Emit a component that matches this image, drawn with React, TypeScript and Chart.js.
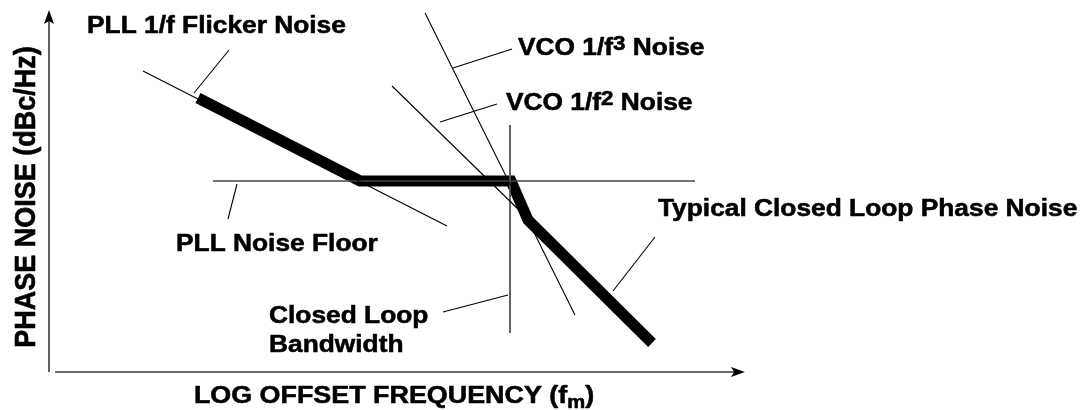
import React, { useEffect, useRef } from "react";
import { Chart, registerables } from "chart.js";

Chart.register(...registerables);

// ---- Data (x: log offset frequency units, y: phase noise, dBc/Hz-like units) ----
const closedLoopX = [14.9, 31.1, 46.2, 47.9, 60.3];
const closedLoopY = [-23, -64.5, -64.5, -84, -145.5];

const flickerX = [9.4, 39.8];
const flickerY = [-9.5, -87];

const floorX = [16.4, 64.6];
const floorY = [-64.5, -64.5];

const vco3X = [37.6, 52.6];
const vco3Y = [19.5, -131.5];

const vco2X = [34.3, 47.1];
const vco2Y = [-17, -79.5];

const bandwidthX = [46.1, 46.1];
const bandwidthY = [-36.5, -140.5];

// leader lines (from curve to label)
const leaderFlickerX = [14.5, 18];
const leaderFlickerY = [-20.5, 1];
const leaderVco3X = [40.4, 46.3];
const leaderVco3Y = [-8, 1.5];
const leaderVco2X = [39.1, 44.8];
const leaderVco2Y = [-35, -26];
const leaderFloorX = [18.8, 17.9];
const leaderFloorY = [-66, -83.5];
const leaderBandwidthX = [45.9, 39.4];
const leaderBandwidthY = [-121.5, -130];
const leaderTypicalX = [56.4, 60.6];
const leaderTypicalY = [-119.5, -92.5];

const xAxisTitle = "LOG OFFSET FREQUENCY (f";
const xAxisSub = "m";
const yAxisTitle = "PHASE NOISE (dBc/Hz)";

type Part = { t: string; sup?: boolean; sub?: boolean };
type Label = { parts: Part[]; x: number; y: number };

const labels: Label[] = [
  { parts: [{ t: "PLL 1/f Flicker Noise" }], x: 3.8, y: 9.5 },
  { parts: [{ t: "VCO 1/f" }, { t: "3", sup: true }, { t: " Noise" }], x: 46.9, y: -1.5 },
  { parts: [{ t: "VCO 1/f" }, { t: "2", sup: true }, { t: " Noise" }], x: 45.7, y: -29 },
  { parts: [{ t: "PLL Noise Floor" }], x: 12.7, y: -99.5 },
  { parts: [{ t: "Closed Loop" }], x: 22, y: -135.5 },
  { parts: [{ t: "Bandwidth" }], x: 22, y: -150 },
  { parts: [{ t: "Typical Closed Loop Phase Noise" }], x: 60.9, y: -82 },
];

const FONT = '"Liberation Sans", Arial, Helvetica, sans-serif';
const STRETCH = 1.12;

const toPts = (xs: number[], ys: number[]) => xs.map((x, i) => ({ x, y: ys[i] }));

function partFont(size: number, p: Part) {
  const s = p.sup ? Math.round(size * 0.85) : p.sub ? Math.round(size * 0.76) : size;
  return `bold ${s}px ${FONT}`;
}

function drawRich(
  ctx: CanvasRenderingContext2D,
  parts: Part[],
  size: number,
  align: "left" | "center"
) {
  let total = 0;
  const widths = parts.map((p) => {
    ctx.font = partFont(size, p);
    const w = ctx.measureText(p.t).width;
    total += w;
    return w;
  });
  let cx = align === "center" ? -total / 2 : 0;
  ctx.textAlign = "left";
  ctx.textBaseline = "alphabetic";
  ctx.lineWidth = 0.55;
  ctx.strokeStyle = "#000";
  ctx.lineJoin = "round";
  parts.forEach((p, i) => {
    ctx.font = partFont(size, p);
    const dy = p.sup ? -size * 0.22 : p.sub ? size * 0.2 : 0;
    ctx.fillText(p.t, cx, dy);
    ctx.strokeText(p.t, cx, dy);
    cx += widths[i];
  });
}

const schematicPlugin = {
  id: "schematic",
  afterDatasetsDraw(chart: any) {
    const ctx: CanvasRenderingContext2D = chart.ctx;
    const xs = chart.scales.x;
    const ys = chart.scales.y;
    const px = (v: number) => xs.getPixelForValue(v);
    const py = (v: number) => ys.getPixelForValue(v);

    ctx.save();
    // axes
    ctx.strokeStyle = "#3a3a3a";
    ctx.fillStyle = "#000";
    ctx.lineWidth = 1.6;
    const ox = px(0);
    const oy = py(-160);
    const yTip = py(21);
    ctx.beginPath();
    ctx.moveTo(ox, oy);
    ctx.lineTo(ox, yTip + 8);
    ctx.stroke();
    ctx.beginPath();
    ctx.moveTo(ox, yTip);
    ctx.lineTo(ox - 5, yTip + 14);
    ctx.lineTo(ox, yTip + 11);
    ctx.lineTo(ox + 5, yTip + 14);
    ctx.closePath();
    ctx.fill();

    const xStart = px(0.6);
    const xTip = px(69.6);
    ctx.beginPath();
    ctx.moveTo(xStart, oy);
    ctx.lineTo(xTip - 8, oy);
    ctx.stroke();
    ctx.beginPath();
    ctx.moveTo(xTip, oy);
    ctx.lineTo(xTip - 14, oy - 5);
    ctx.lineTo(xTip - 11, oy);
    ctx.lineTo(xTip - 14, oy + 5);
    ctx.closePath();
    ctx.fill();

    // labels
    ctx.fillStyle = "#000";
    labels.forEach((l) => {
      ctx.save();
      ctx.translate(px(l.x), py(l.y));
      ctx.scale(STRETCH, 1);
      drawRich(ctx, l.parts, 23.5, "left");
      ctx.restore();
    });

    // x axis title
    ctx.save();
    ctx.translate(px(34.5), py(-175.5));
    ctx.scale(STRETCH, 1);
    drawRich(ctx, [{ t: xAxisTitle }, { t: xAxisSub, sub: true }, { t: ")" }], 24, "center");
    ctx.restore();

    // y axis title
    ctx.save();
    ctx.translate(px(-1.4), py(-72.5));
    ctx.scale(STRETCH, 1);
    ctx.rotate(-Math.PI / 2);
    drawRich(ctx, [{ t: yAxisTitle }], 27, "center");
    ctx.restore();

    ctx.restore();
  },
};

function thin(data: { x: number; y: number }[], color = "#000", width = 1.1) {
  return {
    data,
    borderColor: color,
    borderWidth: width,
    pointRadius: 0,
    tension: 0,
    fill: false,
    borderCapStyle: "butt" as const,
  };
}

export default function App() {
  const canvasRef = useRef<HTMLCanvasElement | null>(null);

  useEffect(() => {
    if (!canvasRef.current) return;
    const chart = new Chart(canvasRef.current, {
      type: "line",
      data: {
        datasets: [
          thin(toPts(flickerX, flickerY)),
          thin(toPts(floorX, floorY), "#444", 1.6),
          thin(toPts(vco3X, vco3Y)),
          thin(toPts(vco2X, vco2Y)),
          thin(toPts(bandwidthX, bandwidthY), "#555", 1.8),
          thin(toPts(leaderFlickerX, leaderFlickerY)),
          thin(toPts(leaderVco3X, leaderVco3Y)),
          thin(toPts(leaderVco2X, leaderVco2Y)),
          thin(toPts(leaderFloorX, leaderFloorY)),
          thin(toPts(leaderBandwidthX, leaderBandwidthY)),
          thin(toPts(leaderTypicalX, leaderTypicalY)),
          {
            data: toPts(closedLoopX, closedLoopY),
            borderColor: "#000",
            borderWidth: 11,
            pointRadius: 0,
            tension: 0,
            fill: false,
            borderJoinStyle: "miter" as const,
            borderCapStyle: "butt" as const,
          },
        ],
      },
      options: {
        responsive: false,
        animation: false,
        devicePixelRatio: 1,
        layout: { padding: 0 },
        plugins: { legend: { display: false }, tooltip: { enabled: false } },
        events: [],
        scales: {
          x: { type: "linear", min: -4.9, max: 104.2, display: false },
          y: { type: "linear", min: -179, max: 26, display: false },
        },
      },
      plugins: [schematicPlugin],
    });
    return () => chart.destroy();
  }, []);

  return (
    <div style={{ position: "absolute", left: 0, top: 0, width: 1091, height: 410, background: "#fff" }}>
      <canvas ref={canvasRef} width={1091} height={410} style={{ display: "block" }} />
    </div>
  );
}
